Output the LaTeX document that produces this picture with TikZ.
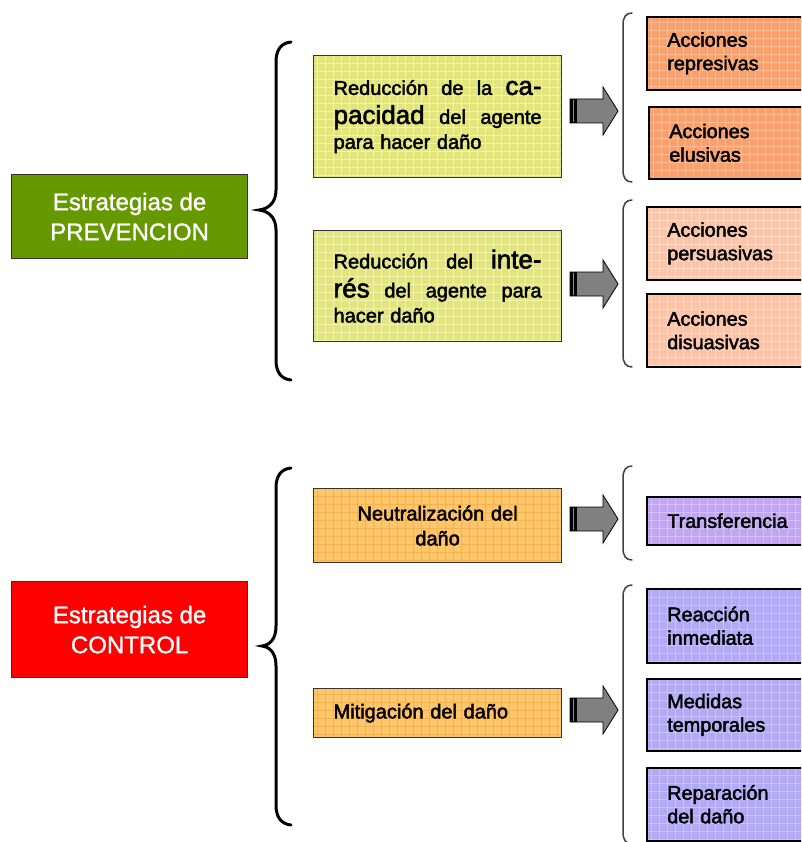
\documentclass[tikz,border=0pt]{standalone}
\usepackage{fontspec}
\setmainfont{Liberation Sans}
\newfontfamily\bx[FakeBold=2.2]{Liberation Sans}
\newfontfamily\tx[FakeBold=1.2]{Liberation Sans}
\usetikzlibrary{calc}
\definecolor{cgreen}{HTML}{669900}
\definecolor{cred}{HTML}{FF0000}
\definecolor{cyel}{HTML}{E2E47E}
\definecolor{cyelg}{HTML}{F1F2B0}
\definecolor{corm}{HTML}{FFC66C}
\definecolor{cormg}{HTML}{F7B24A}
\definecolor{cor}{HTML}{F9A06C}
\definecolor{corg}{HTML}{FBBD98}
\definecolor{cpe}{HTML}{FCC4A8}
\definecolor{cpeg}{HTML}{FDD9C6}
\definecolor{cpu}{HTML}{B2AAF4}
\definecolor{cpug}{HTML}{C9C3F7}
\definecolor{cvi}{HTML}{C2A6F2}
\definecolor{cvig}{HTML}{D4C2F7}
\definecolor{agray}{HTML}{808080}
\newcommand{\jl}[1]{\hbox to 208pt{#1}}
\begin{document}
\begin{tikzpicture}[x=1pt,y=-1pt,
  gridfill/.style n args={2}{fill=#1, path picture={\draw[#2, line width=0.7pt, step=8pt] (path picture bounding box.south west) grid (path picture bounding box.north east);}},
  tbox/.style={draw=black!80, line width=1.2pt, anchor=north west, minimum width=236pt, inner sep=0pt, text=white, align=center, font=\tx\fontsize{24}{30}\selectfont},
  midbox/.style={draw=black!80, line width=1.2pt, anchor=north west, inner xsep=20pt, inner ysep=0pt, text width=208pt, align=left, font=\bx\fontsize{20}{25}\selectfont},
  rbox/.style={draw=black, line width=1.6pt, anchor=north west, inner xsep=20.5pt, inner ysep=0pt, text width=140pt, align=left, font=\bx\fontsize{19.8}{23.5}\selectfont},
  bigbrace/.style={draw=black, line width=3pt, line cap=round},
  smallbrace/.style={draw=black!75, line width=1.5pt, line cap=round},
  barrow/.pic={
    \filldraw[fill=agray, draw=black, line width=0.8pt] (0,-12) -- (33,-12) -- (33,-24) -- (48,0) -- (33,24) -- (33,12) -- (0,12) -- cycle;
    \fill[black] (0,-12) rectangle (7,12);
    \draw[black!45, line width=0.9pt] (3.5,-11) -- (3.5,11);
  }]
\useasboundingbox (0,0) rectangle (801,842);
\clip (0,0) rectangle (801,842);
\fill[white] (0,0) rectangle (801,842);

% title boxes
\node[tbox, fill=cgreen, minimum height=84pt] (prev) at (11,174) {Estrategias de\\PREVENCION};
\node[tbox, fill=cred, minimum height=96pt] (ctrl) at (11,581) {Estrategias de\\CONTROL};

% big braces
\draw[bigbrace] (291,42) .. controls (281,43) and (276,50) .. (276,62) -- (276,190) .. controls (276,203) and (268,209) .. (259,210) .. controls (268,211) and (276,217) .. (276,230) -- (276,360) .. controls (276,372) and (281,379) .. (291,380);
\draw[bigbrace] (291,468) .. controls (281,469) and (276,476) .. (276,488) -- (276,626) .. controls (276,639) and (270,645) .. (262,646) .. controls (270,647) and (276,653) .. (276,666) -- (276,805) .. controls (276,817) and (281,824) .. (291,825);

% middle boxes
\node[midbox, gridfill={cyel}{cyelg}, minimum height=122pt] (cap) at (313,55)
  {\jl{Reducción\hfill de\hfill la\hfill{\fontsize{26}{26}\selectfont ca-}}\vspace{4pt}
   \jl{{\fontsize{26}{26}\selectfont pacidad}\hfill del\hfill agente}
   \hbox{para hacer daño}};
\node[midbox, gridfill={cyel}{cyelg}, minimum height=111pt] (int) at (313,230)
  {\jl{Reducción\hfill del\hfill{\fontsize{26}{26}\selectfont inte-}}\vspace{4pt}
   \jl{{\fontsize{26}{26}\selectfont rés}\hfill del\hfill agente\hfill para}
   \hbox{hacer daño}};
\node[midbox, gridfill={corm}{cormg}, minimum height=74pt, align=center] (neu) at (313,488) {Neutralización del\\daño};
\node[midbox, gridfill={corm}{cormg}, minimum height=49pt] (mit) at (313,688) {Mitigación del daño};

% arrows
\pic at (570,111) {barrow};
\pic at (570,284) {barrow};
\pic at (570,519) {barrow};
\pic at (570,710) {barrow};

% small braces
\draw[smallbrace] (632,13) .. controls (626,13) and (623,17) .. (623,25) -- (623,170) .. controls (623,178) and (626,182) .. (632,182);
\draw[smallbrace] (632,200) .. controls (626,200) and (623,204) .. (623,212) -- (623,355) .. controls (623,363) and (626,367) .. (632,367);
\draw[smallbrace] (632,466) .. controls (626,466) and (623,470) .. (623,478) -- (623,548) .. controls (623,556) and (626,560) .. (632,560);
\draw[smallbrace] (632,585) .. controls (626,585) and (623,589) .. (623,597) -- (623,832) .. controls (623,840) and (626,844) .. (632,844);

% right boxes
\node[rbox, gridfill={cor}{corg}, minimum height=73pt] (rep) at (646,16) {Acciones\\represivas};
\node[rbox, gridfill={cor}{corg}, minimum height=72pt] (elu) at (648,106) {Acciones\\elusivas};
\node[rbox, gridfill={cpe}{cpeg}, minimum height=73pt] (per) at (646,206) {Acciones\\persuasivas};
\node[rbox, gridfill={cpe}{cpeg}, minimum height=73pt] (dis) at (646,293) {Acciones\\disuasivas};
\node[rbox, gridfill={cvi}{cvig}, minimum height=48pt] (tra) at (646,496) {Transferencia};
\node[rbox, gridfill={cpu}{cpug}, minimum height=74pt] (rea) at (646,588) {Reacción\\inmediata};
\node[rbox, gridfill={cpu}{cpug}, minimum height=72pt] (med) at (646,678) {Medidas\\temporales};
\node[rbox, gridfill={cpu}{cpug}, minimum height=73pt] (rpa) at (646,767) {Reparación\\del daño};
\end{tikzpicture}
\end{document}
